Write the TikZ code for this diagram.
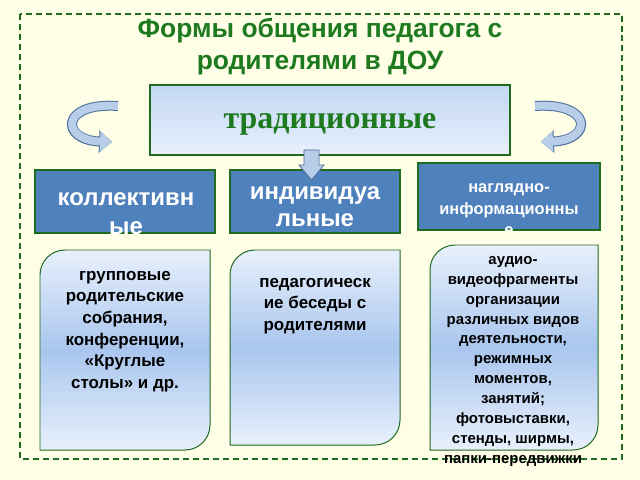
\documentclass[tikz,border=0pt]{standalone}
\usepackage{fontspec}
\setmainfont{Liberation Sans}
\newfontfamily\serifb{Liberation Serif}
\usetikzlibrary{arrows.meta,shadings}
\definecolor{bg}{HTML}{FFFFE8}
\definecolor{dgreen}{HTML}{1F6B1F}
\definecolor{tgreen}{HTML}{1E7A1E}
\definecolor{bbox}{HTML}{4F81BD}
\definecolor{lb1}{HTML}{E8F0FC}
\definecolor{lb2}{HTML}{A9C6EE}
\definecolor{arr}{HTML}{B8CDE8}
\definecolor{arrb}{HTML}{4A6F9C}
\tikzset{
 blue box/.style={fill=bbox,draw=dgreen,line width=1.2pt},
 txtw/.style={text=white,align=center},
 leaf/.style={draw=dgreen,line width=1pt,top color=lb1,bottom color=lb1,middle color=lb2},
 ltxt/.style={font=\bfseries\fontsize{17}{21.7}\selectfont,align=center,anchor=north,inner sep=0},
 curv/.style={line width=8pt,draw=arr,-{Triangle[length=12pt,width=20pt]}},
}
\begin{document}
\begin{tikzpicture}[x=1bp,y=-1bp]
\fill[bg] (0,0) rectangle (640,480);
\useasboundingbox (0,0) rectangle (640,480);
\draw[dgreen,dashed,line width=1.2pt,dash pattern=on 6pt off 4pt] (20,14) rectangle (622,459);
\node[font=\bfseries\fontsize{26.5}{32}\selectfont,text=tgreen,align=center] (title) at (320,47) {Формы общения педагога с\\родителями в ДОУ};
\node[draw=dgreen,line width=1.2pt,top color=lb2!70,bottom color=lb1,minimum width=360bp,minimum height=70bp,inner sep=0] (trad) at (330,120) {};
\node[font=\serifb\bfseries\fontsize{32}{34}\selectfont,text=tgreen] (tradt) at (330,124) {традиционные};
% curved arrows
\draw[curv,draw=arrb,line width=10pt,-{Triangle[length=13pt,width=22pt]}] (118,106) .. controls (60,102) and (60,140) .. (112,142);
\draw[curv] (118,106) .. controls (60,102) and (60,140) .. (112,142);
\draw[curv,draw=arrb,line width=10pt,-{Triangle[length=13pt,width=22pt]}] (535,106) .. controls (593,102) and (593,140) .. (541,142);
\draw[curv] (535,106) .. controls (593,102) and (593,140) .. (541,142);
% blue boxes
\node[blue box,minimum width=180bp,minimum height=63bp,inner sep=0] (kol) at (125,201.5) {};
\node[blue box,minimum width=170bp,minimum height=63bp,inner sep=0] (ind) at (315,201.5) {};
\node[blue box,minimum width=182bp,minimum height=67bp,inner sep=0] (nag) at (509,196.5) {};
\begin{scope}\clip (kol.south west) rectangle (kol.north east);
\node[txtw,font=\bfseries\fontsize{24}{29}\selectfont] at (126,214) {коллективн\\ые};\end{scope}
\begin{scope}\clip (ind.south west) rectangle (ind.north east);
\node[txtw,font=\bfseries\fontsize{24}{27}\selectfont] at (315,207) {индивидуа\\льные};\end{scope}
\begin{scope}\clip (nag.south west) rectangle (nag.north east);
\node[txtw,font=\bfseries\fontsize{16.5}{21.5}\selectfont] at (509,210) {наглядно-\\информационны\\е};\end{scope}
% down arrow
\draw[draw=arrb,fill=arr,line width=0.8pt] (304,150) -- (319,150) -- (319,165) -- (324,165) -- (311.5,180) -- (299,165) -- (304,165) -- cycle;
% leaf boxes
\path[leaf] (40,350) [rounded corners=25bp] -- (40,250) -- (125,250) [sharp corners] -- (210,250) [rounded corners=25bp] -- (210,450) -- (125,450) [sharp corners] -- (40,450) -- cycle;
\path[leaf] (230,350) [rounded corners=25bp] -- (230,250) -- (315,250) [sharp corners] -- (400,250) [rounded corners=25bp] -- (400,445) -- (315,445) [sharp corners] -- (230,445) -- cycle;
\path[leaf] (430,350) [rounded corners=25bp] -- (430,245) -- (514,245) [sharp corners] -- (598,245) [rounded corners=25bp] -- (598,450) -- (514,450) [sharp corners] -- (430,450) -- cycle;
\node[ltxt] (t1) at (125,271) {групповые\\родительские\\собрания,\\конференции,\\«Круглые\\столы» и др.};
\node[ltxt] (t2) at (315,278) {педагогическ\\ие беседы с\\родителями};
\node[ltxt,font=\bfseries\fontsize{15}{20}\selectfont] (t3) at (513,256) {аудио-\\видеофрагменты\\организации\\различных видов\\деятельности,\\режимных\\моментов,\\занятий;\\фотовыставки,\\стенды, ширмы,\\папки-передвижки};
\end{tikzpicture}
\end{document}
